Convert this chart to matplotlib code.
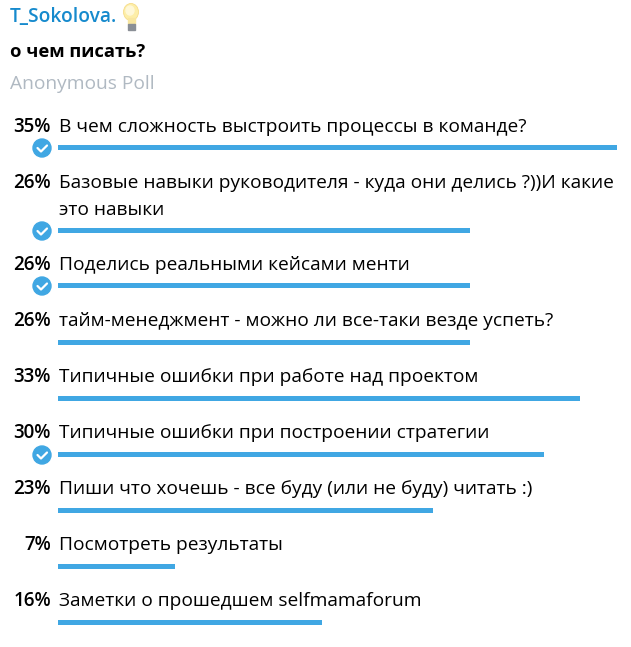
import matplotlib
matplotlib.use("Agg")
import matplotlib.pyplot as plt
from matplotlib.patches import Circle, Ellipse, Rectangle

plt.rcParams['font.family'] = ['Open Sans', 'DejaVu Sans']

author = "T_Sokolova."
question = "о чем писать?"
poll_type = "Anonymous Poll"

options = [
    "В чем сложность выстроить процессы в команде?",
    "Базовые навыки руководителя - куда они делись ?))И какие\nэто навыки",
    "Поделись реальными кейсами менти",
    "тайм-менеджмент - можно ли все-таки везде успеть?",
    "Типичные ошибки при работе над проектом",
    "Типичные ошибки при построении стратегии",
    "Пиши что хочешь - все буду (или не буду) читать :)",
    "Посмотреть результаты",
    "Заметки о прошедшем selfmamaforum",
]
percent_labels = ["35%", "26%", "26%", "26%", "33%", "30%", "23%", "7%", "16%"]
# bar lengths, they differ a bit from the rounded labels
bar_values = [35.0, 25.8, 25.8, 25.8, 32.7, 30.4, 23.5, 7.3, 16.5]
chosen = [True, True, True, False, False, True, False, False, False]
text_y = [126, 182, 264, 320, 376, 432, 488, 544, 600]
bar_y = [147, 230, 285, 342, 398, 454, 510, 566, 622]

W, H = 631, 647
BLUE = '#40a7e3'

fig = plt.figure(figsize=(W / 100, H / 100), dpi=100)

# pixel axes for the text and decorations
ax = fig.add_axes([0, 0, 1, 1])
ax.set_xlim(0, W)
ax.set_ylim(H, 0)
ax.axis('off')

# bars use their own percent x scale: 0 at px 58, 35 at px 617
px_per_pct = (617 - 58) / 35
bar_ax = fig.add_axes([0, 0, 1, 1], sharey=ax)
bar_ax.set_xlim(-58 / px_per_pct, (W - 58) / px_per_pct)
bar_ax.axis('off')
bar_ax.patch.set_alpha(0)
bar_ax.barh(bar_y, bar_values, height=5, color=BLUE)

ax.text(10, 17, author, color='#168acd', fontsize=13.8, fontweight='semibold',
        va='center', ha='left')
ax.text(10, 52, question, color='black', fontsize=13.2, fontweight='bold',
        va='center', ha='left')
ax.text(10, 84, poll_type, color='#b0b9c2', fontsize=13.8, va='center', ha='left')

for label, text, ty in zip(percent_labels, options, text_y):
    ax.text(51, ty + 1, label, color='black', fontsize=13.5, fontweight='semibold',
            va='center', ha='right')
    # two-line options go 27px apart
    for i, line in enumerate(text.split('\n')):
        ax.text(59, ty + 1 + 27 * i, line, color='black', fontsize=13.82,
                va='center', ha='left')

for is_chosen, by in zip(chosen, bar_y):
    if is_chosen:
        ax.add_patch(Circle((42, by + 1), 9, color=BLUE, zorder=3))
        ax.plot([37.5, 41, 47], [by + 1, by + 4.5, by - 1.5], color='white', lw=1.6,
                zorder=4, solid_capstyle='round', solid_joinstyle='round')

# light bulb emoji after the author name
ax.add_patch(Ellipse((131, 12), 15, 17, facecolor='#fdeea8', edgecolor='#f6dc8a', lw=0.6, zorder=3))
ax.add_patch(Ellipse((130, 10.5), 8, 9, color='#fff8d8', zorder=4))
ax.add_patch(Rectangle((127.5, 18), 7, 6, color='#f8e6a0', zorder=3))
ax.add_patch(Rectangle((127.5, 24), 7, 5.5, color='#8a8f96', zorder=4))

fig.savefig('out.png', dpi=100, facecolor='white')
